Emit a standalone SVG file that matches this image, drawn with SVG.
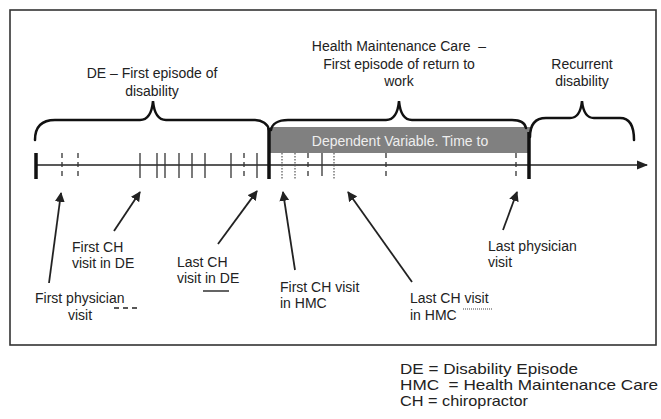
<svg xmlns="http://www.w3.org/2000/svg" width="661" height="419" viewBox="0 0 661 419">
<defs>
<style>
text{font-family:"Liberation Sans",Arial,sans-serif;font-size:14px;fill:#222}
.leg{font-size:14.5px}
.c{text-anchor:middle}
.brace{fill:none;stroke:#111;stroke-width:2.5;stroke-linecap:round}
.tick{stroke:#333;stroke-width:1.3}
.dash{stroke:#333;stroke-width:1.3;stroke-dasharray:5,4}
.dot{stroke:#555;stroke-width:1.2;stroke-dasharray:1.5,1.5}
.thick{stroke:#111;stroke-width:3.5}
.arr{stroke:#222;stroke-width:1.8;marker-end:url(#ah)}
</style>
<marker id="ah" viewBox="0 0 10 10" refX="9" refY="5" markerWidth="5.5" markerHeight="5.5" orient="auto" markerUnits="strokeWidth">
<path d="M0,0 L10,5 L0,10 Z" fill="#222"/>
</marker>
<marker id="axh" viewBox="0 0 10 10" refX="9" refY="5" markerWidth="7" markerHeight="7" orient="auto" markerUnits="strokeWidth">
<path d="M0,1 L10,5 L0,9 Z" fill="#222"/>
</marker>
</defs>
<rect x="10" y="10" width="646" height="335" fill="#fff" stroke="#333" stroke-width="1.6"/>

<g id="dependent-variable">
<rect x="270" y="127" width="260" height="26" fill="#808080"/>
<text class="c" x="400" y="146" style="fill:#eeeeee">Dependent Variable. Time to</text>
</g>

<g id="timeline">
<line x1="35" y1="165" x2="647" y2="165" stroke="#222" stroke-width="1.6" marker-end="url(#axh)"/>
<line class="thick" x1="36" y1="153" x2="36" y2="179"/>
<line class="dash" x1="62" y1="153" x2="62" y2="178"/>
<line class="dash" x1="78" y1="153" x2="78" y2="178"/>
<line class="tick" x1="140" y1="153" x2="140" y2="178"/>
<line class="tick" x1="157" y1="153" x2="157" y2="178"/>
<line class="tick" x1="165" y1="153" x2="165" y2="178"/>
<line class="tick" x1="179" y1="153" x2="179" y2="178"/>
<line class="tick" x1="192" y1="153" x2="192" y2="178"/>
<line class="tick" x1="205" y1="153" x2="205" y2="178"/>
<line class="tick" x1="231" y1="153" x2="231" y2="178"/>
<line class="dash" x1="244" y1="153" x2="244" y2="178"/>
<line class="tick" x1="257" y1="153" x2="257" y2="178"/>
<line class="thick" x1="269" y1="128" x2="269" y2="179"/>
<line class="dot" x1="282" y1="153" x2="282" y2="179"/>
<line class="dot" x1="295" y1="153" x2="295" y2="179"/>
<line class="dash" x1="308" y1="153" x2="308" y2="179"/>
<line class="tick" x1="322" y1="153" x2="322" y2="176"/>
<line class="dot" x1="334" y1="153" x2="334" y2="179"/>
<line class="dash" x1="386" y1="153" x2="386" y2="179"/>
<line class="dash" x1="516" y1="153" x2="516" y2="180"/>
<line class="thick" x1="529" y1="132" x2="529" y2="179"/>
</g>

<g id="brace-de">
<path class="brace" d="M35,140 C35,128 40,120 55,120 L140,120 C148,120 152,112 153,101 C154,112 158,120 166,120 L255,120 C262,120 268,124 269,130"/>
<text class="c" x="152" y="78">DE – First episode of</text>
<text class="c" x="152" y="96">disability</text>
</g>

<g id="brace-hmc">
<path class="brace" d="M271,130 C272,124 278,120 288,120 L386,120 C394,120 398,112 399,101 C400,112 404,120 412,120 L512,120 C520,120 525,123 526,128"/>
<text class="c" x="399" y="51" xml:space="preserve">Health Maintenance Care  –</text>
<text class="c" x="399" y="69">First episode of return to</text>
<text class="c" x="399" y="86">work</text>
</g>

<g id="brace-recurrent">
<path class="brace" d="M530,137 C530,124 535,118 546,118 L570,118 C578,118 581,111 582,101 C583,111 586,118 594,118 L620,118 C630,118 634,126 634,140"/>
<text class="c" x="582" y="69">Recurrent</text>
<text class="c" x="582" y="86">disability</text>
</g>

<g id="connectors">
<line class="arr" x1="49" y1="283" x2="61" y2="193"/>
<line class="arr" x1="114" y1="231" x2="140" y2="192"/>
<line class="arr" x1="218" y1="244" x2="257" y2="191"/>
<line class="arr" x1="295" y1="270" x2="283" y2="192"/>
<line class="arr" x1="412" y1="282" x2="348" y2="192"/>
<line class="arr" x1="503" y1="230" x2="517" y2="192"/>
</g>

<g id="label-first-physician">
<text x="35" y="303">First physician</text>
<text x="68" y="320">visit</text>
<line x1="114" y1="308" x2="140" y2="308" stroke="#222" stroke-width="1.4" stroke-dasharray="5,4"/>
</g>
<g id="label-first-ch-de">
<text x="72" y="252">First CH</text>
<text x="72" y="268">visit in DE</text>
</g>
<g id="label-last-ch-de">
<text x="177" y="267">Last CH</text>
<text x="177" y="283">visit in DE</text>
<line x1="203" y1="291" x2="229" y2="291" stroke="#222" stroke-width="1.4"/>
</g>
<g id="label-first-ch-hmc">
<text x="280" y="292">First CH visit</text>
<text x="280" y="308">in HMC</text>
</g>
<g id="label-last-ch-hmc">
<text x="410" y="303">Last CH visit</text>
<text x="410" y="320">in HMC</text>
<line x1="463" y1="309" x2="492" y2="309" stroke="#444" stroke-width="1.2" stroke-dasharray="1,1"/>
</g>
<g id="label-last-physician">
<text x="488" y="251">Last physician</text>
<text x="488" y="267">visit</text>
</g>

<g id="legend">
<text class="leg" x="400" y="374" textLength="178" lengthAdjust="spacingAndGlyphs">DE = Disability Episode</text>
<text class="leg" x="400" y="390" xml:space="preserve" textLength="258" lengthAdjust="spacingAndGlyphs">HMC  = Health Maintenance Care</text>
<text class="leg" x="400" y="406" textLength="128" lengthAdjust="spacingAndGlyphs">CH = chiropractor</text>
</g>
</svg>
